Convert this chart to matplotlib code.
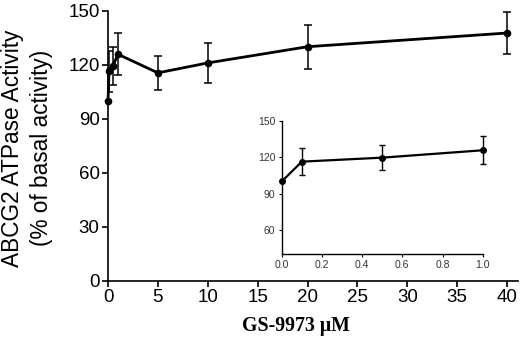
import numpy as np
from matplotlib import pyplot as plt

# GS-9973 concentration (uM) vs ABCG2 ATPase activity (% of basal)
conc = [0, 0.1, 0.5, 1, 5, 10, 20, 40]
activity = [100, 116.4, 119.5, 125.8, 115.5, 121, 130, 137.6]
sd = [0, 11.4, 10.6, 11.6, 9.3, 11.2, 12.2, 11.5]

# inset: low concentration range
conc_low = [0, 0.1, 0.5, 1.0]
activity_low = [100, 116.4, 119.7, 125.8]
sd_low = [0, 11.4, 10.6, 11.6]

plt.rcParams['font.family'] = ['Liberation Sans', 'DejaVu Sans']

fig = plt.figure(figsize=(5.21, 3.41), dpi=100)
ax = fig.add_axes([0.2073, 0.176, 0.787, 0.7927])

# basal point (x=0) has no error bar
ax.plot(conc, activity, color='black', lw=2, marker='o', ms=4.5, clip_on=False)
ax.errorbar(conc[1:], activity[1:], yerr=sd[1:], fmt='none', ecolor='black',
            elinewidth=1.1, capsize=2.6, capthick=1.1)
ax.set_xlim(0, 41.1)
ax.set_ylim(0, 150)
ax.set_xticks(np.arange(0, 41, 5))
ax.set_yticks(np.arange(0, 151, 30))
ax.tick_params(labelsize=13.5, length=4, width=1.2, direction='out', pad=2)
for s in ['top', 'right']:
    ax.spines[s].set_visible(False)
for s in ['left', 'bottom']:
    ax.spines[s].set_linewidth(1.2)

fig.text(27 / 521, 1 - 148 / 341, "ABCG2 ATPase Activity\n(% of basal activity)",
         rotation=90, ha='center', va='center', ma='center', fontsize=16.3,
         linespacing=1.3)
fig.text(296 / 521, 1 - 326 / 341, "GS-9973 \u03bcM", ha='center', va='center',
         fontsize=14.3, fontweight='bold', family='Liberation Serif')

# inset
ins = fig.add_axes([0.5407, 0.2551, 0.3858, 0.39])
ins.plot(conc_low, activity_low, color='black', lw=1.6, marker='o', ms=4,
         clip_on=False)
ins.errorbar(conc_low[1:], activity_low[1:], yerr=sd_low[1:], fmt='none',
             ecolor='black', elinewidth=1, capsize=2.4, capthick=1)
ins.set_xlim(0, 1.0)
ins.set_ylim(40, 150)
ins.set_xticks(np.arange(0, 1.01, 0.2))
ins.set_xticklabels(['0.0', '0.2', '0.4', '0.6', '0.8', '1.0'])
ins.set_yticks([60, 90, 120, 150])
ins.tick_params(labelsize=7.5, length=2.5, width=0.8, pad=2, labelcolor='#333333')
ins.patch.set_alpha(0)
for s in ['top', 'right']:
    ins.spines[s].set_visible(False)
for s in ['left', 'bottom']:
    ins.spines[s].set_linewidth(1)
for coll in ins.collections + ins.lines:
    coll.set_clip_on(False)

fig.savefig('out.png', dpi=100)
